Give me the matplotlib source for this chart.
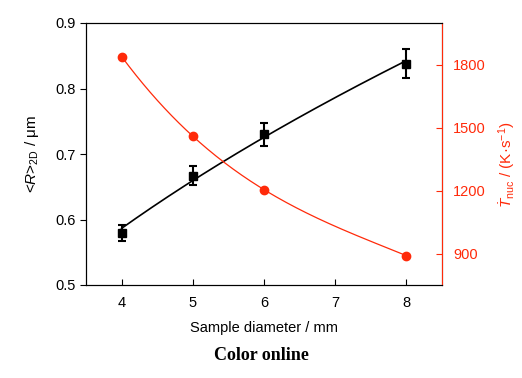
import numpy as np
import matplotlib
matplotlib.use('Agg')
import matplotlib.pyplot as plt

plt.rcParams['font.family'] = ['Liberation Sans', 'DejaVu Sans']
plt.rcParams['mathtext.fontset'] = 'custom'
plt.rcParams['mathtext.rm'] = 'Liberation Sans'
plt.rcParams['mathtext.it'] = 'Liberation Sans:italic'

# data
diam = [4, 5, 6, 8]
radius = [0.579, 0.667, 0.73, 0.838]
radius_err = [0.012, 0.015, 0.018, 0.022]
cool_rate = [1840, 1460, 1205, 890]

RED = '#ff2a0a'

fig = plt.figure(figsize=(5.22, 3.78), dpi=100)
ax = fig.add_axes([86/522, 1 - 285/378, (442-86)/522, (285-23)/378])

# fit lines through the data (R vs sqrt(d))
xs = np.linspace(4, 8, 200)
pr = np.polyfit(np.sqrt(diam), radius, 1)
ax.plot(xs, np.polyval(pr, np.sqrt(xs)), color='black', lw=1.2, zorder=2)
ax.errorbar(diam, radius, yerr=radius_err, fmt='s', color='black', ms=6,
            capsize=3, elinewidth=1.5, capthick=1.5, zorder=3)

ax.set_xlim(3.5, 8.5)
ax.set_ylim(0.5, 0.9)
ax.set_xticks([4, 5, 6, 7, 8])
ax.set_yticks([0.5, 0.6, 0.7, 0.8, 0.9])
ax.tick_params(axis='x', direction='in', labelsize=10.5, length=4, pad=8)
ax.tick_params(axis='y', direction='out', labelsize=10.5, length=4)
ax.set_xlabel('Sample diameter / mm', fontsize=10.5, labelpad=8)
ax.set_ylabel(r'<$\mathit{R}$>$_{\rm 2D}$ / μm', fontsize=11, labelpad=10)

ax2 = ax.twinx()
pc = np.polyfit(diam, cool_rate, 3)
ax2.plot(xs, np.polyval(pc, xs), color=RED, lw=0.9, zorder=2)
ax2.plot(diam, cool_rate, 'o', color=RED, ms=6, zorder=3)
ax2.set_ylim(750, 2000)
ax2.set_yticks([900, 1200, 1500, 1800])
ax2.tick_params(axis='y', direction='in', colors=RED, labelsize=10.5, length=4, pad=8)
ax2.spines['right'].set_color(RED)
ax2.set_ylabel(r'$\dot{T}_{\rm nuc}$ / (K·s$^{-1}$)', color=RED, fontsize=11, labelpad=8)
ax2.yaxis.label.set_y(0.46)

fig.text(0.5, 1 - 355/378, 'Color online', ha='center', va='center',
         fontsize=13, fontweight='bold', family='Liberation Serif')

fig.savefig('out.png', dpi=100)
